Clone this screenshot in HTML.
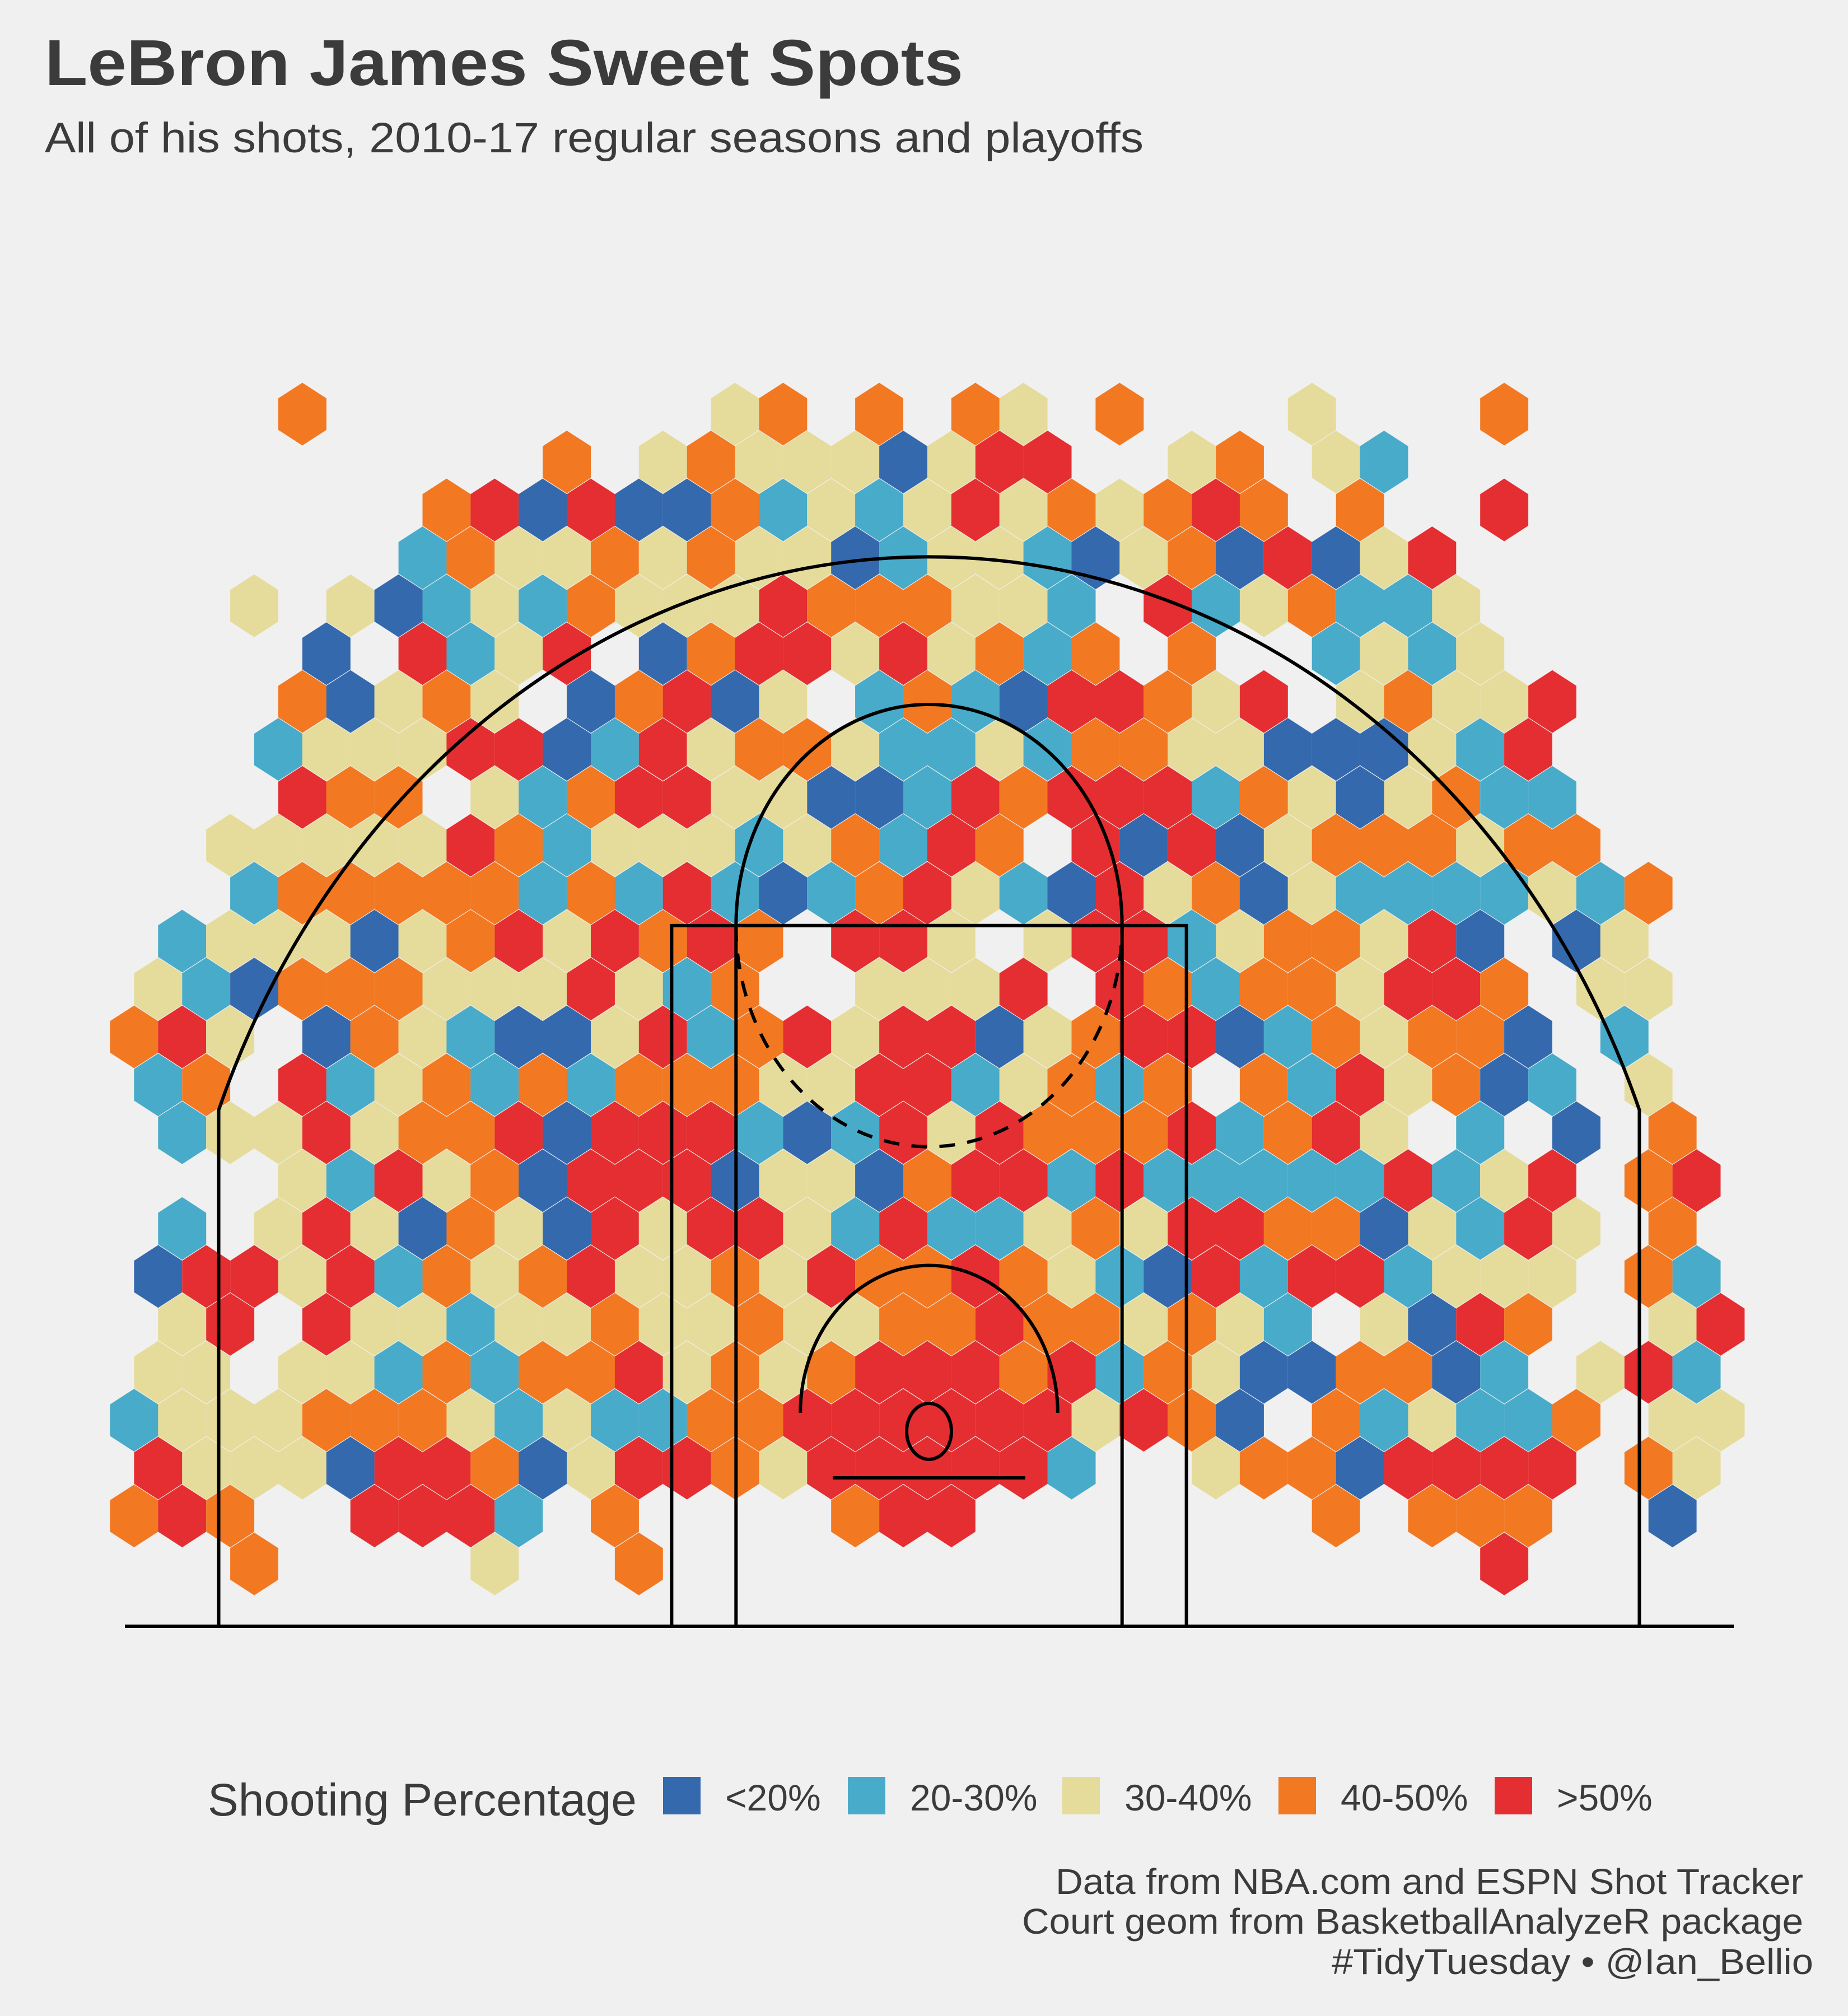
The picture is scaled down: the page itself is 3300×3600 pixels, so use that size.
<!DOCTYPE html>
<html><head><meta charset="utf-8"><style>
html,body{margin:0;padding:0;background:#F0F0F0;}
svg{display:block;}
text{font-family:"Liberation Sans",Arial,sans-serif;fill:#3b3b3b;}
</style></head><body>
<svg id="chart" width="3300" height="3600" viewBox="0 0 3300 3600" xmlns="http://www.w3.org/2000/svg">
<rect x="0" y="0" width="3300" height="3600" fill="#F0F0F0"/>
<text x="80" y="152" font-size="116" font-weight="bold" textLength="1640" lengthAdjust="spacingAndGlyphs">LeBron James Sweet Spots</text>
<text x="80" y="272" font-size="76" textLength="1962" lengthAdjust="spacingAndGlyphs">All of his shots, 2010-17 regular seasons and playoffs</text>
<g id="hexes"></g>
<g id="court" fill="none" stroke="#000" stroke-width="6"></g>
<g id="legend"></g>
<text x="3220" y="3382" font-size="64" text-anchor="end" textLength="1335" lengthAdjust="spacingAndGlyphs">Data from NBA.com and ESPN Shot Tracker</text>
<text x="3220" y="3453" font-size="64" text-anchor="end" textLength="1395" lengthAdjust="spacingAndGlyphs">Court geom from BasketballAnalyzeR package</text>
<text x="3238" y="3525" font-size="64" text-anchor="end" textLength="860" lengthAdjust="spacingAndGlyphs">#TidyTuesday • @Ian_Bellio</text>
</svg>
<script>
// hex grid rows: row r, slot k -> column c = 2k + (r%2). B <20, L 20-30, Y 30-40, O 40-50, R >50
const hexRows = [
"....O........YO.O.OY.O...Y...O....",
".........O.YOYYYBYRR..YO.YL.......",
".......ORBRBBOLYLYRYOYORO.O..R....",
"......LOYYOYOYYBLYYLBYOBRBYR......",
"...Y.YBLYLOYYYROOOYYL.RLYOLLY.....",
"....B.RLYR.BORRYRYOLO.O..LYLY.....",
"....OBYOY.BORBY.LOLBRROYR.YOYYR...",
"...LYYYRRBLRYOOYLLYLOOYYBBBYLR....",
"....ROO.YLORRYYBBLRORRRLOYBYOLL...",
"..YYYYYROLYYYLYOLRO.RBRBYOOOYOO...",
"...LOOOOOLOLRLBLORYLBRYOBYLLLLYLO.",
".LYYYBYORYRORO.RRY.YRRLYOOYRB.BY..",
".YLBOOOYYYRYLO..YYYR.ROLOOYRRO.YY.",
"ORY.BOYLBBYRLORYRRBYORRBLOYOOB.L..",
".LO.RLYOLOLOOOYYRRLYOLO.OLRYOBL.Y.",
".LYYRYOORBRRRLBLRYROOORLORY.L.B.O.",
"....YLRYOBRRRBYYBORRLRLLLLLRLYR.OR",
".L.YRYBOYBRYRRYLRLLYOYRROOBYLRY.O.",
".BRRYRLOYORYYOYROOROYLBRLRRLYYY.OL",
".YR.RYYLYYOYYOYYOOROOYOYL.YBRO..YR",
".YY.YYLOLOORYOYORRRORLOYBBOOBL.YRL",
"LYYYOOOYLYLLOORRRRRRYROB.OLYLLO.YY",
".RYYYBRROBYRROYRRRRRL..YOOBRRRR.OY",
"ORO..RRRL.O....ORR.......O.OOO..B.",
"...O....Y..O.................R...."
];
const binCodes = ["B","L","Y","O","R"];
const binLabels = ["<20%","20-30%","30-40%","40-50%",">50%"];
const binNames = ["lt-20","20-30","30-40","40-50","gt-50"];
const binColors = ["#3469AE","#48ABC9","#E5DC9C","#F37822","#E52E31"];

const NS = "http://www.w3.org/2000/svg";
function xOf(c){ return 196.5 + 42.925*c; }
function yOf(r){ return 739.5 + 85.55*r; }
function hexPoints(cx, cy){
  const hw=42.95, s=28.2, t=56;
  return [[cx,cy-t],[cx+hw,cy-s],[cx+hw,cy+s],[cx,cy+t],[cx-hw,cy+s],[cx-hw,cy-s]]
    .map(p=>p[0].toFixed(1)+","+p[1].toFixed(1)).join(" ");
}
const hg = document.getElementById("hexes");
hexRows.forEach((row, r) => {
  for (let k = 0; k < row.length; k++) {
    const code = row[k];
    const bi = binCodes.indexOf(code);
    if (bi < 0) continue;
    const c = 2*k + (r % 2);
    const poly = document.createElementNS(NS, "polygon");
    poly.setAttribute("points", hexPoints(xOf(c), yOf(r)));
    poly.setAttribute("fill", binColors[bi]);
    
    
    hg.appendChild(poly);
  }
});

const cg = document.getElementById("court");
const BX = 1659, BASE = 2904, SX = 57.45, SY = 65.85;
function fx(ft){ return BX + ft*SX; }
function fy(ft){ return BASE - ft*SY; }
function addEl(tag, attrs, name){
  const el = document.createElementNS(NS, tag);
  for (const k in attrs) el.setAttribute(k, attrs[k]);
  
  
  cg.appendChild(el);
  return el;
}
addEl("line",{x1:223,y1:BASE,x2:3096,y2:BASE},"baseline");
addEl("rect",{x:fx(-8),y:fy(19),width:16*SX,height:19*SY},"paint-outer");
addEl("rect",{x:fx(-6),y:fy(19),width:12*SX,height:19*SY},"paint-inner");
const by = 5.25, cy3 = 14;
const rx3 = 23.75*SX, ry3 = 23.75*SY, yb = fy(by);
const dyk = (cy3-by)*SY, dxk = rx3*Math.sqrt(1-(dyk/ry3)*(dyk/ry3));
addEl("path",{d:`M ${BX-dxk} ${BASE} L ${BX-dxk} ${yb-dyk} A ${rx3} ${ry3} 0 0 1 ${BX+dxk} ${yb-dyk} L ${BX+dxk} ${BASE}`},"three-point-line");
const ftY = fy(19), frx = 6*SX, fry = 6*SY;
addEl("path",{d:`M ${BX-frx} ${ftY} A ${frx} ${fry} 0 0 1 ${BX+frx} ${ftY}`},"free-throw-arc-top");
addEl("path",{d:`M ${BX-frx} ${ftY} A ${frx} ${fry} 0 0 0 ${BX+frx} ${ftY}`,"stroke-dasharray":"28 22"},"free-throw-arc-bottom");
const raY = 2523, rrx = 4*SX, rry = 4*SY;
addEl("path",{d:`M ${BX-rrx} ${raY} A ${rrx} ${rry} 0 0 1 ${BX+rrx} ${raY}`},"restricted-area");
addEl("ellipse",{cx:BX,cy:2556,rx:40,ry:50},"hoop");
addEl("line",{x1:BX-172,y1:2639,x2:BX+172,y2:2639},"backboard");

const lg = document.getElementById("legend");
const lt = document.createElementNS(NS,"text");
lt.setAttribute("x",371); lt.setAttribute("y",3242); lt.setAttribute("font-size",82);
lt.textContent = "Shooting Percentage";


lg.appendChild(lt);
const keyXs = [1184, 1514, 1897, 2283, 2669];
binLabels.forEach((lab,i)=>{
  const x = keyXs[i];
  const r = document.createElementNS(NS,"rect");
  r.setAttribute("x",x); r.setAttribute("y",3173); r.setAttribute("width",67); r.setAttribute("height",67);
  r.setAttribute("fill",binColors[i]);
  
  
  lg.appendChild(r);
  const t = document.createElementNS(NS,"text");
  t.setAttribute("x",x+111); t.setAttribute("y",3233); t.setAttribute("font-size",66);
  t.textContent = lab;
  
  
  lg.appendChild(t);
});
</script>
</body></html>
